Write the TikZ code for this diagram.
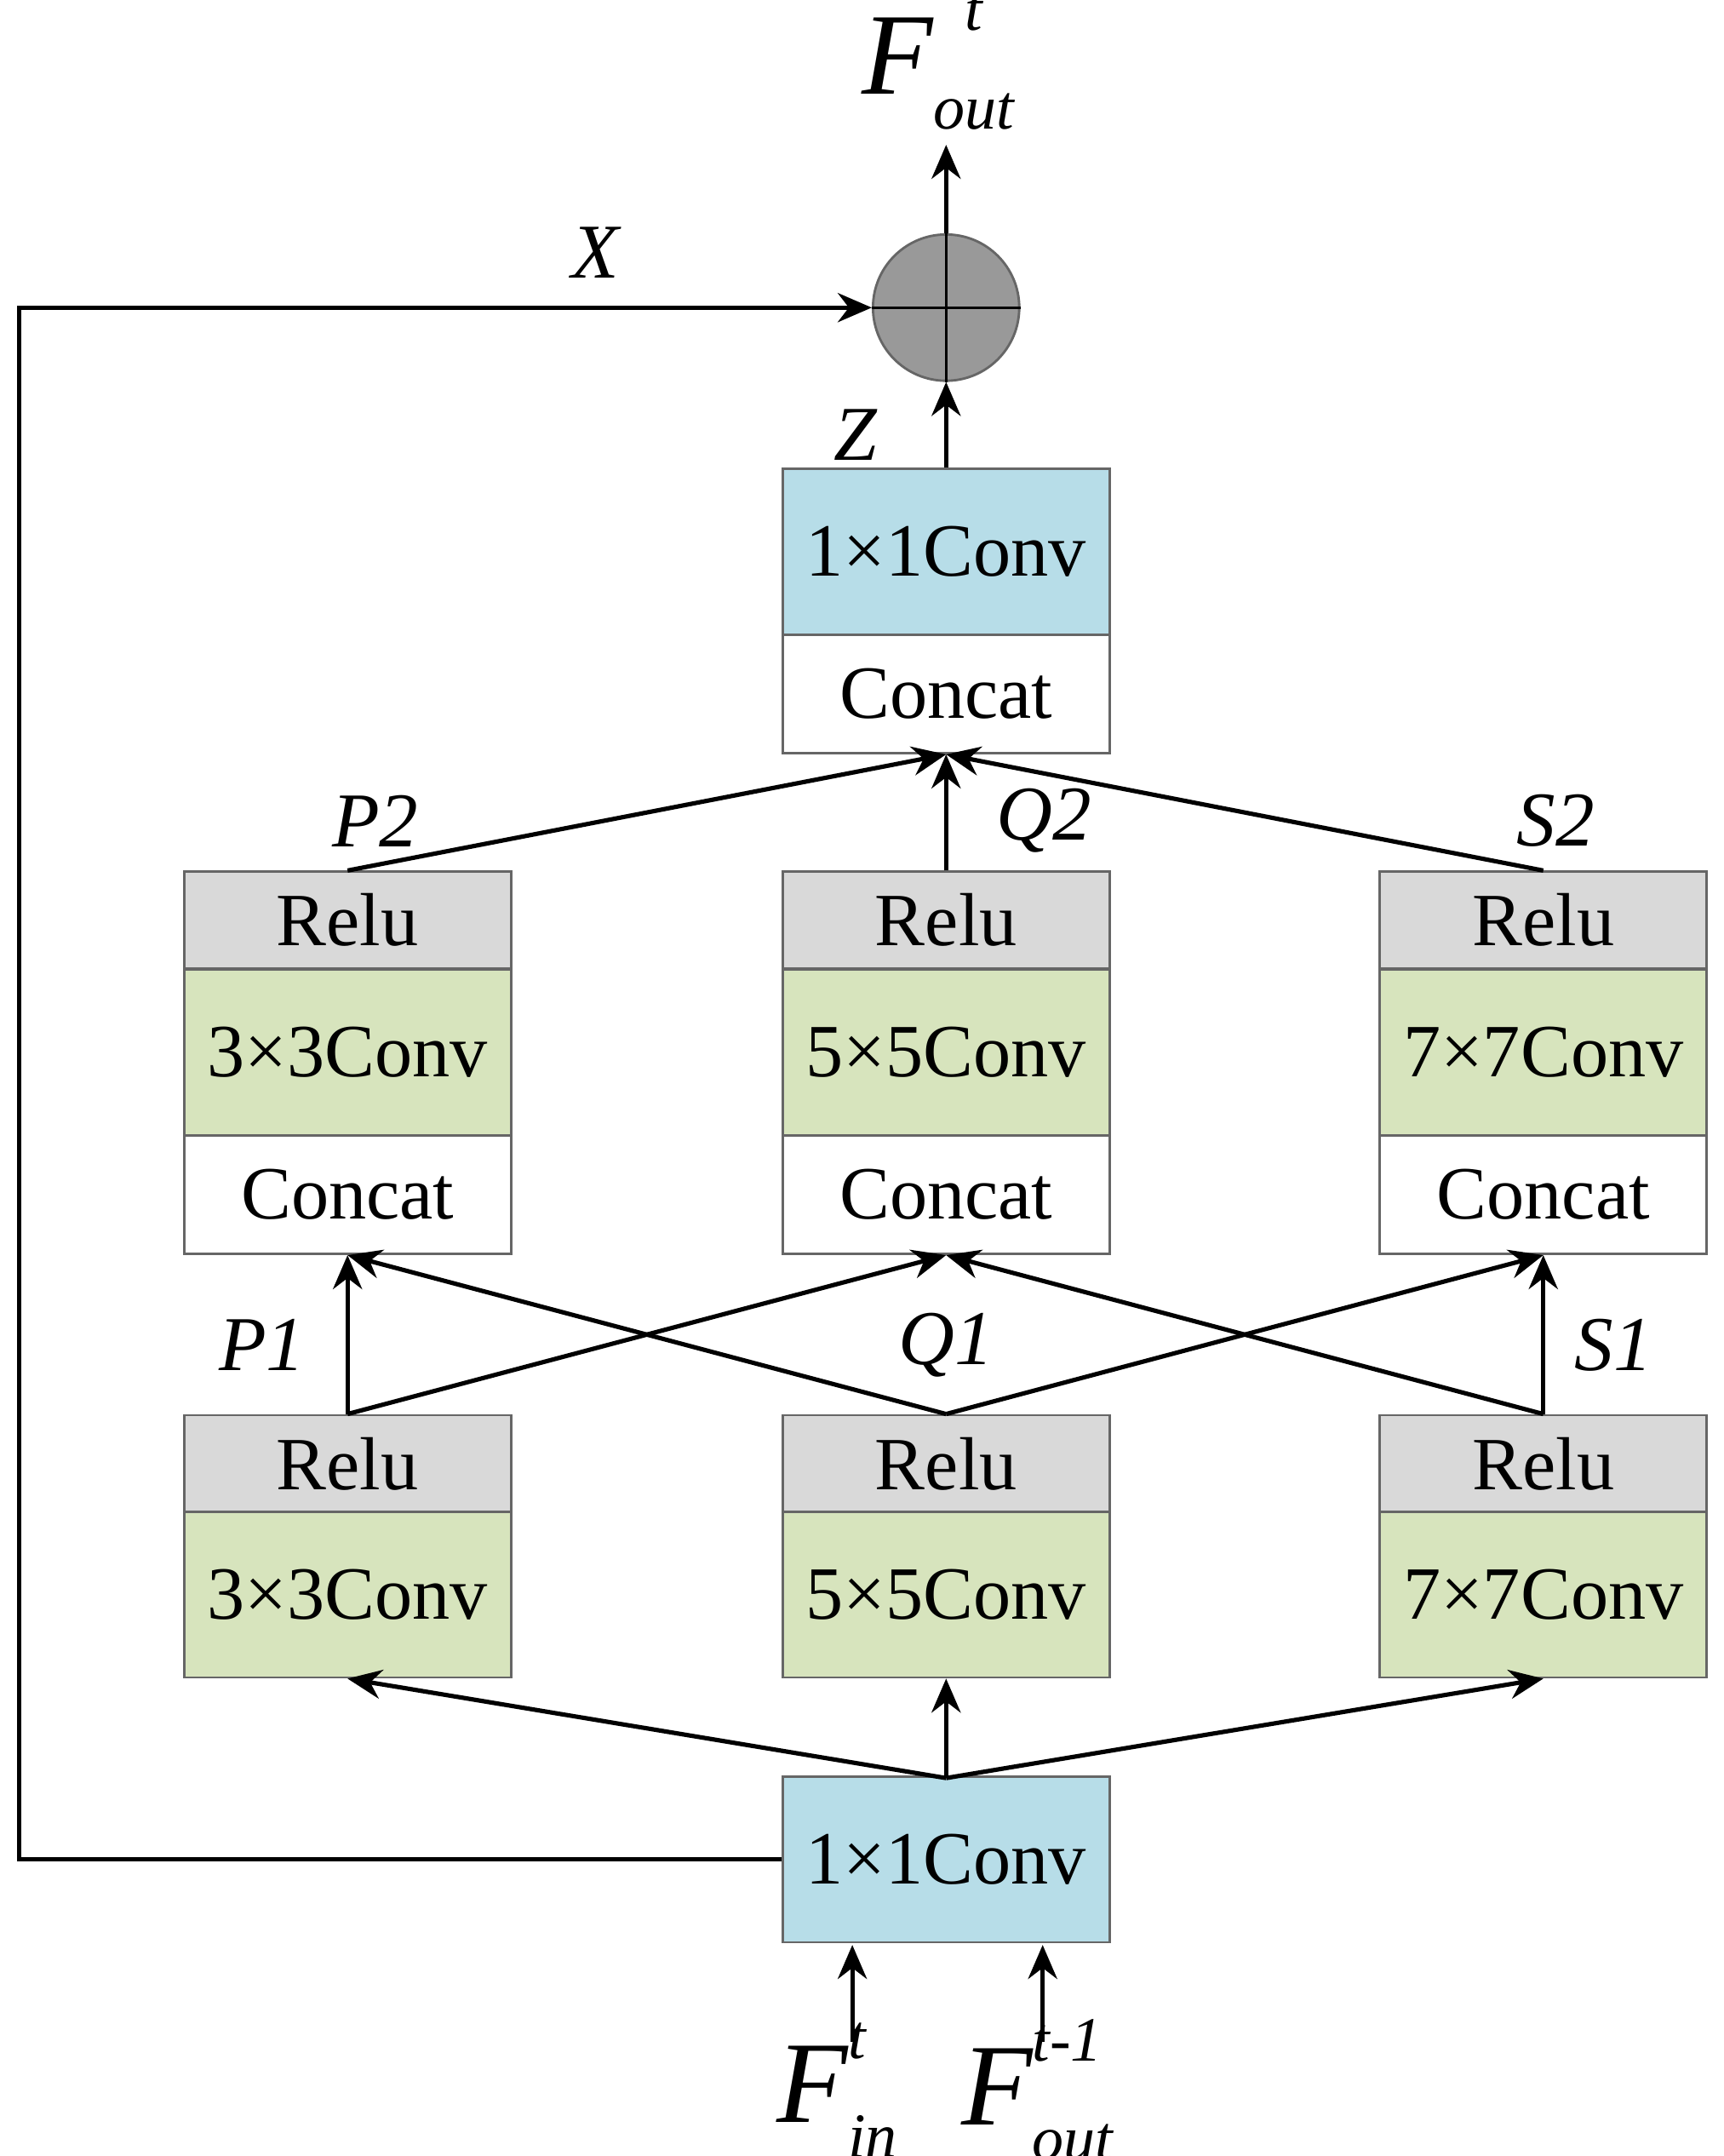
\documentclass[tikz,border=0pt]{standalone}
\usepackage{fontspec}
\setmainfont{Liberation Serif}
\usetikzlibrary{arrows.meta}

\newcommand{\supsub}[3]{#1\rlap{\raisebox{0.55em}{\fontsize{13}{14}\selectfont #2}}\raisebox{-0.3em}{\fontsize{13}{14}\selectfont #3}}

\begin{document}
\begin{tikzpicture}[x=0.01cm,y=-0.01cm,line width=0.9pt,
    blk/.style={draw=black!60,line width=0.5pt,minimum width=2.37cm,inner sep=0pt,
        font=\fontsize{15.5}{18}\selectfont},
    conv/.style={blk,fill=convblue,minimum height=1.2cm},
    gconv/.style={blk,fill=convgreen,minimum height=1.2cm},
    relu/.style={blk,fill=relugray,minimum height=0.7cm},
    cat/.style={blk,fill=white,minimum height=0.86cm},
    lbl/.style={font=\fontsize{16}{19}\selectfont\itshape},
    flbl/.style={font=\fontsize{24}{28}\selectfont\itshape},
    arr/.style={-{Stealth[length=7pt,width=6pt]}}]

    \definecolor{convblue}{HTML}{B7DDE8}
    \definecolor{convgreen}{HTML}{D7E4BD}
    \definecolor{relugray}{HTML}{D9D9D9}

    \useasboundingbox (0,0) rectangle (1250,1563);

    % output block
    \node[conv] (topconv) at (686,400) {1×1Conv};
    \node[cat] (topcat) at (686,503) {Concat};
    \node[circle,draw=black!60,fill=black!40,line width=0.5pt,minimum size=1.06cm] (sum) at (686,223) {};
    \draw[line width=0.5pt] (sum.north) -- (sum.south) (sum.west) -- (sum.east);

    % branches
    \foreach \n/\x/\k in {p/252/3,q/686/5,s/1119/7} {
        \node[relu] (\n r2) at (\x,667) {Relu};
        \node[gconv] (\n c2) at (\x,763) {\k×\k Conv};
        \node[cat] (\n cat) at (\x,866) {Concat};
        \node[relu] (\n r1) at (\x,1061) {Relu};
        \node[gconv] (\n c1) at (\x,1156) {\k×\k Conv};
    }

    % input block
    \node[conv] (inconv) at (686,1348) {1×1Conv};
    \coordinate (fork) at (686,1289);

    \draw[arr] (fork) -- (pc1.south);
    \draw[arr] (fork) -- (qc1.south);
    \draw[arr] (fork) -- (sc1.south);

    \draw[arr] (pr1.north) -- (pcat.south);
    \draw[arr] (pr1.north) -- (qcat.south);
    \draw[arr] (qr1.north) -- (pcat.south);
    \draw[arr] (qr1.north) -- (scat.south);
    \draw[arr] (sr1.north) -- (qcat.south);
    \draw[arr] (sr1.north) -- (scat.south);

    \draw[arr] (pr2.north) -- (topcat.south);
    \draw[arr] (qr2.north) -- (topcat.south);
    \draw[arr] (sr2.north) -- (topcat.south);

    \draw[arr] (topconv.north) -- (sum.south);
    \coordinate (out) at (686,105);
    \draw[arr] (sum.north) -- (out);

    \draw[arr] (inconv.west) -| (14,223) -- (sum.west);

    \coordinate (ina) at (618,1480);
    \coordinate (inb) at (756,1480);
    \draw[arr] (ina) -- (618,1410);
    \draw[arr] (inb) -- (756,1410);

    % labels
    \node[lbl] at (432,183) {X};
    \node[lbl] at (620,315) {Z};
    \node[lbl] at (272,595) {P2};
    \node[lbl] at (757,595) {Q2};
    \node[lbl] at (1128,595) {S2};
    \node[lbl] at (190,975) {P1};
    \node[lbl] at (686,975) {Q1};
    \node[lbl] at (1170,975) {S1};
    \node[flbl] at (680,45) {\supsub{F}{\,\,\,t}{out}};
    \node[flbl] at (607,1515) {\supsub{F}{t}{in}};
    \node[flbl] at (752,1515) {\supsub{F}{t-1}{out}};

\end{tikzpicture}
\end{document}
